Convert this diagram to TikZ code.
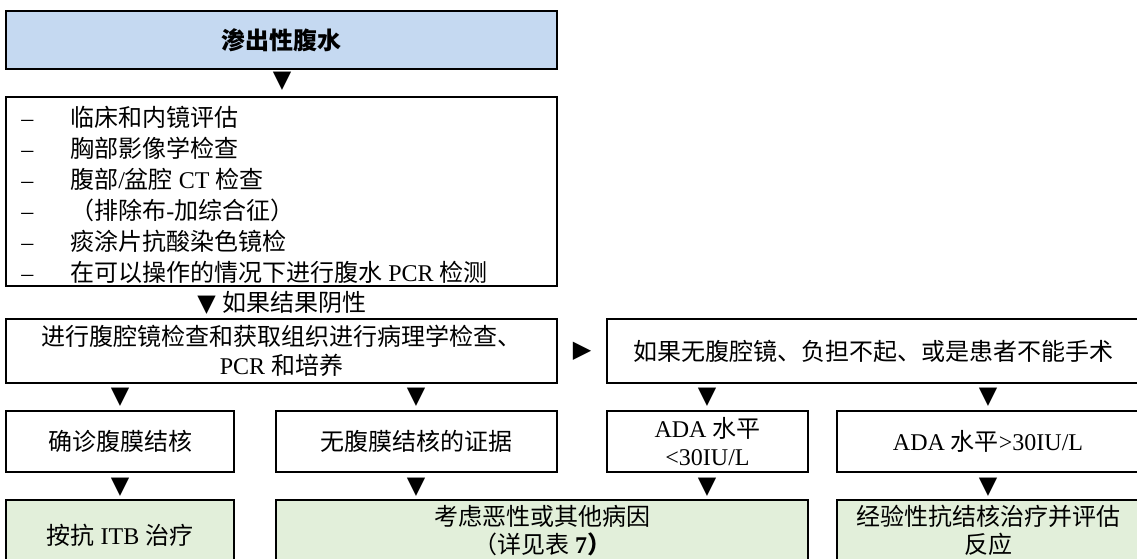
\documentclass[tikz,border=0pt]{standalone}
\usepackage{fontspec}
\setmainfont{Noto Sans CJK SC}
\newfontfamily\ltfont{Liberation Serif}
\newfontfamily\symfont{DejaVu Sans}
\newdimen\px \px=0.75pt
\newcommand\La[1]{{\ltfont #1}}
\newcommand\dn{{\symfont ▼}}
\newcommand\rt{{\symfont ▶}}
\newcommand\dashitem{\makebox[49\px][l]{\La{–}}}
\definecolor{hdrblue}{HTML}{C5D9F1}
\definecolor{resgreen}{HTML}{E2EFDA}
\tikzset{
  box/.style={draw=black, line width=2\px, rectangle, inner sep=0pt, align=center,
    font=\fontsize{18pt}{21.5pt}\selectfont},
  greenbox/.style={box, fill=resgreen},
  tri/.style={inner sep=0pt, font=\fontsize{18pt}{21.5pt}\selectfont},
  txt/.style={inner sep=0pt, align=left, font=\fontsize{18pt}{23.25pt}\selectfont},
  gtext/.style={inner sep=0pt, align=center, font=\fontsize{18pt}{21.5pt}\selectfont},
}
\begin{document}
\begin{tikzpicture}[x=0.75pt, y=-0.75pt]
\useasboundingbox (0,0) rectangle (1137,558);
\fill[white] (0,0) rectangle (1137,558);
\clip (0,0) rectangle (1137,558);

% header
\node[box, fill=hdrblue, minimum width=551\px, minimum height=58\px] (hdr) at (281.5,40) {\bfseries 渗出性腹水};
\node[tri] (t1) at (282,81) {\dn};

% list
\node[box, minimum width=551\px, minimum height=189\px] (list) at (281.5,191.5) {};
\node[txt, anchor=west] (listtxt) at (21,194.5) {\dashitem 临床和内镜评估\\
\dashitem 胸部影像学检查\\
\dashitem 腹部\La{/}盆腔\La{ CT }检查\\
\dashitem （排除布\La{-}加综合征）\\
\dashitem 痰涂片抗酸染色镜检\\
\dashitem 在可以操作的情况下进行腹水\La{ PCR }检测};

\node[tri] (neg) at (282,303) {\dn\hspace{7\px}如果结果阴性};

% laparoscopy row
\node[box, minimum width=551\px, minimum height=64\px] (lap) at (281.5,351) {进行腹腔镜检查和获取组织进行病理学检查、\\\La{PCR }和培养};
\node[tri] (rarr) at (582,351) {\rt};
\node[box, minimum width=532\px, minimum height=64\px] (nolap) at (873,351) {如果无腹腔镜、负担不起、或是患者不能手术};

\node[tri] (t2a) at (120,397) {\dn};
\node[tri] (t2b) at (416,397) {\dn};
\node[tri] (t2c) at (707,397) {\dn};
\node[tri] (t2d) at (988,397) {\dn};

% second row
\node[box, minimum width=228\px, minimum height=61\px] (confirm) at (120,441.5) {确诊腹膜结核};
\node[box, minimum width=281\px, minimum height=61\px] (noevid) at (416.5,441.5) {无腹膜结核的证据};
\node[box, minimum width=201\px, minimum height=61\px] (adalow) at (707.5,441.5) {\La{ADA }水平\\\La{<30IU/L}};
\node[box, minimum width=302\px, minimum height=61\px] (adahigh) at (988,441.5) {\La{ADA }水平\La{>30IU/L}};

\node[tri] (t3a) at (120,487) {\dn};
\node[tri] (t3b) at (416,487) {\dn};
\node[tri] (t3c) at (707,487) {\dn};
\node[tri] (t3d) at (988,487) {\dn};

% results
\node[greenbox, minimum width=228\px, minimum height=70\px] (itb) at (120,535) {按抗\La{ ITB }治疗};
\node[greenbox, minimum width=532\px, minimum height=70\px] (other) at (542,535) {};
\node[gtext] (othertxt) at (542,530.5) {考虑恶性或其他病因\\（详见表\La{ \textbf{7}}\textbf{）}};
\node[greenbox, minimum width=302\px, minimum height=70\px] (emp) at (988,535) {};
\node[gtext] (emptxt) at (988,530.5) {经验性抗结核治疗并评估\\反应};
\end{tikzpicture}
\end{document}
